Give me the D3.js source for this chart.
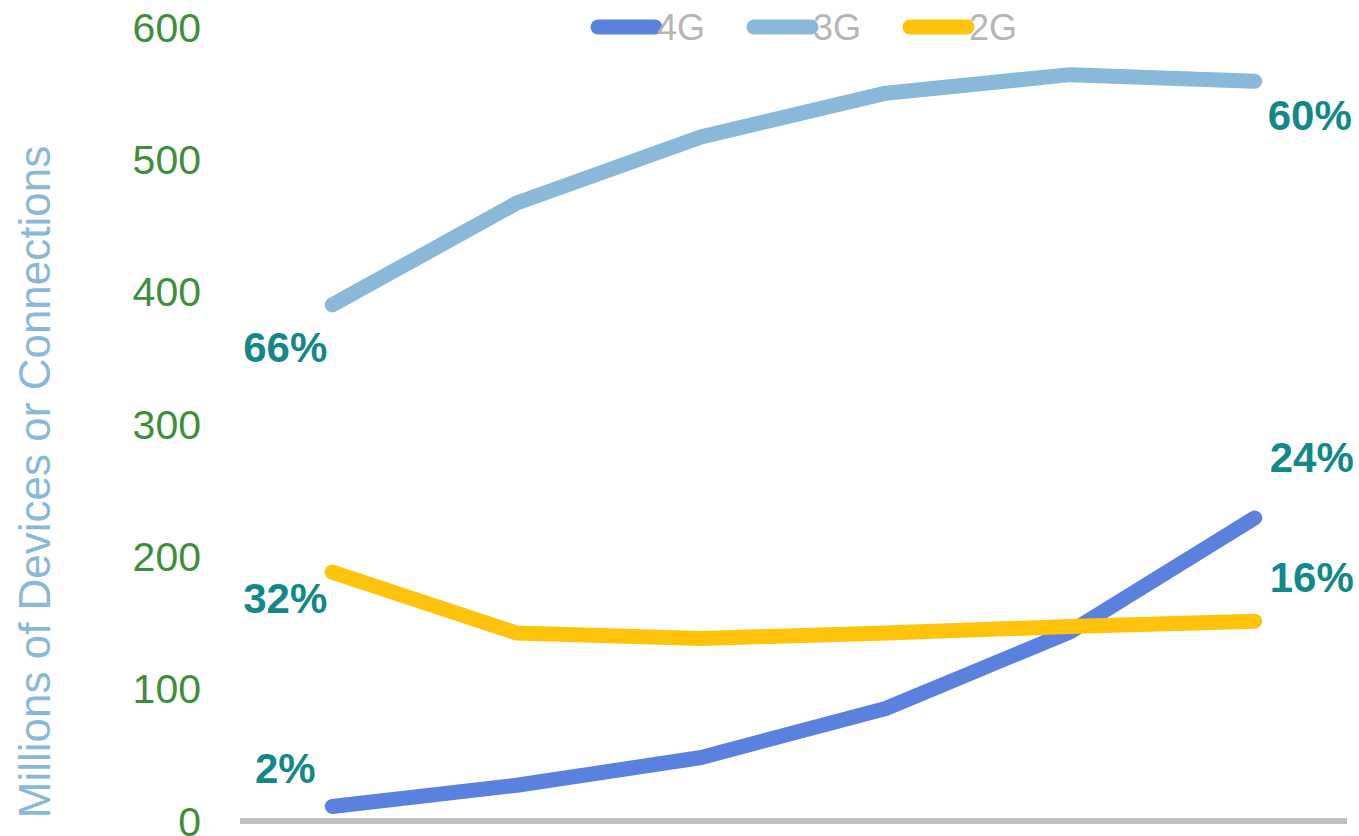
<!DOCTYPE html>
<html>
<head>
<meta charset="utf-8">
<script src="https://cdn.jsdelivr.net/npm/d3@7"></script>
<style>
  body { margin: 0; background: #fff; }
  text { font-family: "Liberation Sans", Arial, sans-serif; }
</style>
</head>
<body>
<div id="chart"></div>
<script>
// data
var periods = ["p1", "p2", "p3", "p4", "p5", "p6"];
var series = ["4G", "3G", "2G"];
var values4G = [11, 27, 48, 85, 143, 229];
var values3G = [390, 467, 517, 550, 564, 559];
var values2G = [188, 142, 138, 142, 147, 151];
var yTicks = [0, 100, 200, 300, 400, 500, 600];
var shareLabels = [
  {s: "3G", i: 0, text: "66%"},
  {s: "2G", i: 0, text: "32%"},
  {s: "4G", i: 0, text: "2%"},
  {s: "3G", i: 5, text: "60%"},
  {s: "4G", i: 5, text: "24%"},
  {s: "2G", i: 5, text: "16%"}
];
// where each share label sits next to its point (px)
var labelOffsets = [[-47, 42], [-47, 26], [-47, -39], [55, 34], [57, -61], [57, -44]];

var colors = {"4G": "#5b81de", "3G": "#8ab8d9", "2G": "#ffc30b"};
var byName = {"4G": values4G, "3G": values3G, "2G": values2G};

var width = 1359, height = 836;
var svg = d3.select("#chart").append("svg").attr("width", width).attr("height", height);

var x = d3.scalePoint().domain(periods).range([240, 1347]).padding(0.5);
var y = d3.scaleLinear().domain([0, 600]).range([821, 27]);

// y tick labels
svg.append("g").selectAll("text").data(yTicks).enter().append("text")
  .attr("x", 201).attr("y", function(d){ return y(d); })
  .attr("dy", "0.36em")
  .attr("text-anchor", "end")
  .attr("font-size", 41)
  .attr("fill", "#3f8f3a")
  .text(function(d){ return d; });

// axis title
svg.append("text")
  .attr("transform", "translate(50,482) rotate(-90)")
  .attr("text-anchor", "middle")
  .attr("font-size", 44)
  .attr("fill", "#8ab8d9")
  .text("Millions of Devices or Connections");

// bottom axis line
svg.append("line")
  .attr("x1", x.range()[0]).attr("x2", x.range()[1])
  .attr("y1", y(0)).attr("y2", y(0))
  .attr("stroke", "#bfbfbf").attr("stroke-width", 6);

var line = d3.line()
  .x(function(d, i){ return x(periods[i]); })
  .y(function(d){ return y(d); });

// 2G sits on top of 4G where they cross
["3G", "4G", "2G"].forEach(function(s){
  svg.append("path")
    .attr("d", line(byName[s]))
    .attr("fill", "none")
    .attr("stroke", colors[s])
    .attr("stroke-width", 15)
    .attr("stroke-linecap", "round")
    .attr("stroke-linejoin", "round");
});

// share labels
svg.append("g").selectAll("text").data(shareLabels).enter().append("text")
  .attr("x", function(d, k){ return x(periods[d.i]) + labelOffsets[k][0]; })
  .attr("y", function(d, k){ return y(byName[d.s][d.i]) + labelOffsets[k][1]; })
  .attr("dy", "0.36em")
  .attr("text-anchor", "middle")
  .attr("font-size", 42)
  .attr("font-weight", "bold")
  .attr("fill", "#138889")
  .text(function(d){ return d.text; });

// legend
var legend = svg.append("g").selectAll("g").data(series).enter().append("g")
  .attr("transform", function(d, i){ return "translate(" + (598 + i * 156) + ",27)"; });
legend.append("line")
  .attr("x1", 0).attr("x2", 57).attr("y1", 0).attr("y2", 0)
  .attr("stroke", function(d){ return colors[d]; })
  .attr("stroke-width", 15)
  .attr("stroke-linecap", "round");
legend.append("text")
  .attr("x", 59).attr("y", 0).attr("dy", "0.36em")
  .attr("font-size", 36)
  .attr("fill", "#b5b5b5")
  .text(function(d){ return d; });
</script>
</body>
</html>
